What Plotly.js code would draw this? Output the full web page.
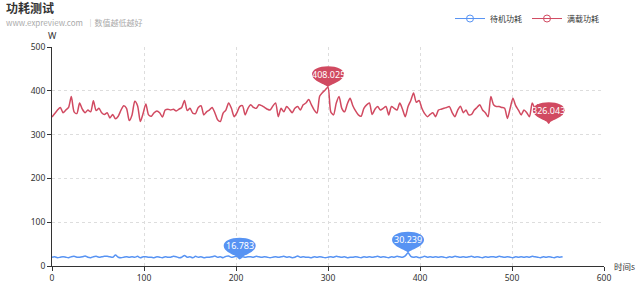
<!DOCTYPE html>
<html>
<head>
<meta charset="utf-8">
<script src="https://cdn.plot.ly/plotly-3.0.1.min.js"></script>
<style>html,body{margin:0;padding:0;background:#fff}#chart{width:640px;height:284px}</style>
</head>
<body>
<div id="chart"></div>
<script>
var titleText = '功耗测试';
var subtitleText = 'www.expreview.com  ｜数值越低越好';
var seriesNames = ['待机功耗', '满载功耗'];
var yAxisName = 'W';
var xAxisName = '时间s';
var sampleStep = 3; // seconds between samples

var idlePower = [
  20,21,19,20,21,20,19,21,22,20,
  20,21,23,20,19,21,22,20,21,22,
  22,21,20,25,20,19,20,21,20,21,
  20,22,19,21,21,20,20,19,21,20,
  19,21,20,20,22,21,19,20,24,20,
  21,19,22,20,21,19,20,20,21,23,
  20,21,19,22,23,20,21,22,16.783,21,
  20,21,21,20,22,21,20,21,20,19,
  20,21,20,21,22,20,21,19,20,23,
  20,21,20,20,19,21,20,21,20,19,
  20,21,20,22,21,20,21,19,20,20,
  21,20,19,21,20,21,20,21,22,20,
  21,20,19,21,20,22,21,20,23,30.239,
  22,20,21,19,20,22,20,21,20,21,
  20,21,20,19,21,20,22,21,20,21,
  20,21,22,20,21,20,19,21,20,21,
  21,20,22,21,20,21,20,19,21,20,
  21,20,21,20,22,21,20,19,21,20,
  21,20,19,21,20,21
];

var loadPower = [
  340,348,356,362,350,356,362,387,352,348,
  372,358,350,356,352,377,355,360,350,346,
  350,338,346,336,342,356,366,360,332,345,
  376,366,330,348,370,345,342,350,354,350,
  340,356,358,356,358,354,358,362,378,355,
  360,349,348,362,366,345,352,356,362,350,
  334,330,349,356,372,360,341,350,364,366,
  345,360,368,362,360,368,366,362,358,356,
  365,372,341,360,352,364,358,350,360,364,
  356,368,372,380,368,356,349,388,396,402,
  408.025,352,345,372,387,360,352,370,383,366,
  354,345,342,360,368,372,346,358,364,356,
  360,364,345,364,360,356,372,358,341,364,
  378,395,374,378,360,348,341,346,350,341,
  356,358,360,362,364,350,341,356,365,350,
  356,345,346,356,362,368,356,350,341,387,
  368,364,364,362,360,337,360,383,366,356,
  345,356,350,341,372,360,368,352,348,338,
  326.043,342,350,345,348,346
];

var colors = ['#5793f3', '#d14a61'];

function timesFor(arr){ var t=[]; for(var i=0;i<arr.length;i++) t.push(i*sampleStep); return t; }

var allSeries = [idlePower, loadPower];
var traces = allSeries.map(function(vals, k){
  return {
    x: timesFor(vals), y: vals, name: seriesNames[k], type: 'scatter', mode: 'lines',
    line: {color: colors[k], width: 1.5, shape: 'spline', smoothing: 0.7},
    hoverinfo: 'x+y', showlegend:false
  };
});
var legendTraces = seriesNames.map(function(n, k){
  return {x:[null], y:[null], name:n, type:'scatter', mode:'lines+markers',
    line:{color:colors[k], width:1},
    marker:{symbol:'circle-open', size:7, color:colors[k], line:{width:1}},
    showlegend:true, hoverinfo:'skip'};
});

var shapes = [], annotations = [];
var pinPath = 'M 0,0 C -2,3 -16,6 -16,13 C -16,18 -9,21 0,21 C 9,21 16,18 16,13 C 16,6 2,3 0,0 Z';
allSeries.forEach(function(vals, k){
  var t = timesFor(vals);
  var maxI = 0, minI = 0;
  for (var i=1;i<vals.length;i++){ if(vals[i]>vals[maxI]) maxI=i; if(vals[i]<vals[minI]) minI=i; }
  [maxI, minI].forEach(function(idx){
    shapes.push({type:'path', xref:'x', yref:'y', xsizemode:'pixel', ysizemode:'pixel',
      xanchor: t[idx], yanchor: vals[idx], path: pinPath,
      fillcolor: colors[k], line:{width:0}, layer:'above'});
    annotations.push({x:t[idx], y:vals[idx], xref:'x', yref:'y', text:String(vals[idx]),
      showarrow:false, yshift:13, font:{size:9, color:'#fff', family:'Noto Sans, sans-serif'}});
  });
});

annotations.push({xref:'paper', yref:'paper', x:-0.087, y:1.18, xanchor:'left', yanchor:'middle',
  text:'<b>'+titleText+'</b>', showarrow:false, font:{size:12, color:'#333', family:'Noto Sans CJK SC, sans-serif'}});
annotations.push({xref:'paper', yref:'paper', x:-0.087, y:1.112, xanchor:'left', yanchor:'middle',
  text:subtitleText, showarrow:false, font:{size:8, color:'#aaa', family:'Noto Sans CJK SC, sans-serif'}});
annotations.push({xref:'paper', yref:'paper', x:0, y:1, xanchor:'center', yanchor:'bottom', yshift:3,
  text:yAxisName, showarrow:false, font:{size:9, color:'#333', family:'Noto Sans, sans-serif'}});
annotations.push({xref:'paper', yref:'paper', x:1, y:0, xanchor:'left', yanchor:'middle', xshift:8,
  text:xAxisName, showarrow:false, font:{size:8.5, color:'#333', family:'Noto Sans CJK SC, sans-serif'}});

var axisCommon = {showline:true, linecolor:'#333', linewidth:1, ticks:'outside', ticklen:4, tickcolor:'#333',
  tickfont:{size:8.5, color:'#333', family:'Noto Sans, sans-serif'}, showgrid:true, gridcolor:'#ddd',
  griddash:'3px,3px', gridwidth:1, zeroline:false, fixedrange:true};

var layout = {
  width:640, height:284, margin:{l:52, r:36, t:47, b:18, autoexpand:false}, paper_bgcolor:'#fff', plot_bgcolor:'#fff',
  showlegend:true,
  legend:{orientation:'h', x:1, xanchor:'right', y:1.13, yanchor:'middle', font:{size:8, color:'#333', family:'Noto Sans CJK SC, sans-serif'},
    traceorder:'normal', bgcolor:'rgba(0,0,0,0)', tracegroupgap:0},
  xaxis: Object.assign({}, axisCommon, {range:[0,600], dtick:100, tick0:0}),
  yaxis: Object.assign({}, axisCommon, {range:[0,500], dtick:100, tick0:0}),
  shapes: shapes, annotations: annotations
};

Plotly.newPlot('chart', traces.concat(legendTraces), layout, {displayModeBar:false, staticPlot:true});
</script>
</body>
</html>
